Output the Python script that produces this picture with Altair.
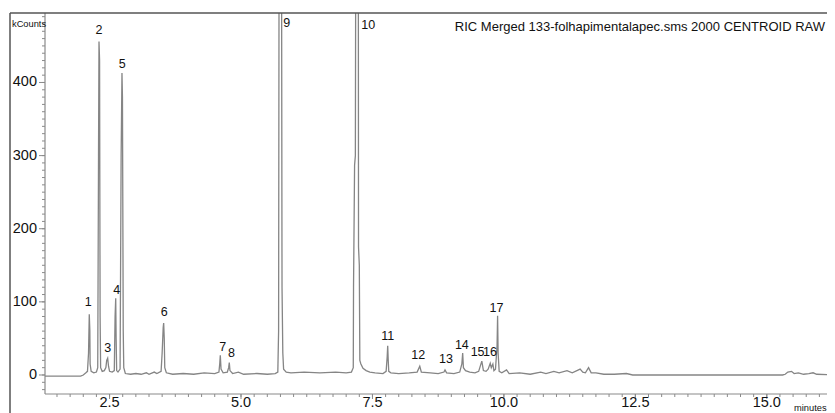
import altair as alt
import pandas as pd

# ---- chromatogram trace (minutes, kCounts) ----
trace_t = [1.27, 1.95, 2.00, 2.05, 2.08, 2.10, 2.114, 2.125, 2.13, 2.15, 2.20, 2.25, 2.275, 2.29, 2.299, 2.31,
           2.32, 2.33, 2.36, 2.40, 2.43, 2.445, 2.464, 2.48, 2.50, 2.55, 2.59, 2.605, 2.617, 2.625, 2.635,
           2.66, 2.70, 2.72, 2.736, 2.745, 2.76, 2.77, 2.80, 2.90, 3.00, 3.10, 3.20, 3.25, 3.35, 3.40, 3.48,
           3.50, 3.52, 3.529, 3.54, 3.55, 3.58, 3.70, 3.90, 4.10, 4.30, 4.50, 4.58, 4.595, 4.606, 4.62, 4.66,
           4.74, 4.765, 4.777, 4.79, 4.84, 4.95, 5.05, 5.30, 5.50, 5.65, 5.70, 5.715, 5.725, 5.745, 5.77,
           5.78, 5.795, 5.81, 5.86, 5.95, 6.20, 6.50, 6.80, 7.00, 7.10, 7.135, 7.14, 7.16, 7.175, 7.185,
           7.23, 7.235, 7.25, 7.26, 7.28, 7.32, 7.38, 7.45, 7.55, 7.70, 7.76, 7.78, 7.79, 7.80, 7.81, 7.85,
           8.00, 8.20, 8.35, 8.40, 8.43, 8.60, 8.75, 8.86, 8.88, 8.91, 9.05, 9.16, 9.20, 9.216, 9.23, 9.27,
           9.35, 9.45, 9.52, 9.58, 9.61, 9.66, 9.70, 9.74, 9.76, 9.79, 9.81, 9.84, 9.87, 9.88, 9.89, 9.91,
           9.96, 10.05, 10.10, 10.30, 10.50, 10.70, 10.80, 10.95, 11.05, 11.20, 11.30, 11.45, 11.50, 11.55,
           11.61, 11.66, 11.75, 11.90, 12.10, 12.33, 12.45, 15.30, 15.35, 15.40, 15.47, 15.52, 15.60, 15.70,
           15.80, 15.88, 15.95, 16.30]
trace_v = [-1.5, -1.5, 0, 3, 5, 30, 83, 60, 15, 5, 3, 4, 10, 300, 456, 430,
           80, 10, 5, 6, 10, 20, 23, 12, 5, 4, 6, 80, 105, 50, 6,
           4, 8, 300, 413, 380, 60, 10, 2, 1, 2, 1, 3, 1, 4, 2, 5,
           30, 65, 71, 50, 10, 3, 1, 2, 1, 3, 2, 4, 15, 27, 8, 3,
           4, 10, 17, 6, 2, 4, 1, 2, 1, 2, 4, 60, 640, 660, 640,
           120, 30, 8, 4, 3, 4, 3, 4, 3, 4, 10, 120, 287, 300, 700,
           700, 175, 150, 20, 15, 9, 6, 4, 3, 2, 5, 25, 40, 20, 5, 3,
           2, 3, 4, 12, 4, 3, 2, 4, 7, 3, 2, 4, 15, 30, 10, 6,
           4, 3, 5, 19, 6, 5, 8, 16, 10, 15, 6, 8, 40, 81, 30, 5,
           3, 7, 2, 3, 1, 4, 2, 5, 3, 6, 3, 8, 4, 3,
           10, 3, 3, 1, 1, 2, 0, 0, 1, 4, 5, 2, 3, 1,
           2, 3, 1, 0]

# ---- peak labels ----
peak_ids = ["1", "2", "3", "4", "5", "6", "7", "8", "9", "10", "11", "12", "13", "14", "15", "16", "17"]
label_t = [2.095, 2.30, 2.464, 2.636, 2.742, 3.54, 4.65, 4.82, 5.869, 7.42, 7.79, 8.37, 8.90, 9.20, 9.50, 9.735, 9.86]
label_v = [100, 472, 36.5, 116, 425.6, 85.8, 38.7, 30.5, 482, 479, 53.4, 27.4, 22.3, 41, 31, 31, 92]

# ---- axes: tick values and tick labels ----
x_domain = [1.272, 16.145]
y_domain = [-26, 495]
x_major = [2.5, 5.0, 7.5, 10.0, 12.5, 15.0]
x_major_labels = ["2.5", "5.0", "7.5", "10.0", "12.5", "15.0"]
x_minor = [1.5 + 0.25 * i for i in range(59)]
y_major = [0, 100, 200, 300, 400]
y_major_labels = ["0", "100", "200", "300", "400"]
y_minor = list(range(-20, 491, 10))

title_text = "RIC Merged 133-folhapimentalapec.sms 2000 CENTROID RAW"
y_unit = "kCounts"
x_unit = "minutes"

W, H = 782, 381
FONT = "Liberation Sans"
LINE_COL = "#858585"
AX_COL = "#8a8a8a"
TXT = "#111111"

trace = pd.DataFrame({"t": trace_t, "v": trace_v})
labels = pd.DataFrame({"id": peak_ids, "t": label_t, "v": label_v})
xmaj = pd.DataFrame({"t": x_major, "lab": x_major_labels})
xmin = pd.DataFrame({"t": x_minor})
ymaj = pd.DataFrame({"v": y_major, "lab": y_major_labels})
ymin = pd.DataFrame({"v": y_minor})
one = pd.DataFrame({"a": [0]})

x_scale = alt.Scale(domain=x_domain, nice=False, zero=False)
y_scale = alt.Scale(domain=y_domain, nice=False, zero=False)


def X(field):
    return alt.X(field, type="quantitative", scale=x_scale, axis=None)


def Y(field):
    return alt.Y(field, type="quantitative", scale=y_scale, axis=None)


line = alt.Chart(trace).mark_line(color=LINE_COL, strokeWidth=1.3, clip=True, interpolate="linear").encode(
    x=X("t"), y=Y("v"), order="t:Q",
)

peak_text = alt.Chart(labels).mark_text(font=FONT, fontSize=12.5, color=TXT, align="center",
                                         baseline="middle").encode(
    x=X("t"), y=Y("v"), text="id:N",
)

# axis lines
x_domain_line = alt.Chart(one).mark_rule(color=AX_COL, strokeWidth=1.2).encode(
    x=alt.value(0), x2=alt.value(W), y=alt.value(H))
y_domain_line = alt.Chart(one).mark_rule(color=AX_COL, strokeWidth=1.2).encode(
    x=alt.value(0), y=alt.value(0), y2=alt.value(H))

# ticks
x_minor_ticks = alt.Chart(xmin).mark_rule(color=AX_COL, strokeWidth=1).encode(
    x=X("t"), y=alt.value(H), y2=alt.value(H + 3))
x_major_ticks = alt.Chart(xmaj).mark_rule(color=AX_COL, strokeWidth=1).encode(
    x=X("t"), y=alt.value(H), y2=alt.value(H + 5))
y_minor_ticks = alt.Chart(ymin).mark_rule(color=AX_COL, strokeWidth=1).encode(
    y=Y("v"), x=alt.value(-3), x2=alt.value(0))
y_major_ticks = alt.Chart(ymaj).mark_rule(color=AX_COL, strokeWidth=1).encode(
    y=Y("v"), x=alt.value(-6), x2=alt.value(0))

# tick labels
x_tick_labels = alt.Chart(xmaj).mark_text(font=FONT, fontSize=14.5, color=TXT, align="center",
                                           baseline="alphabetic").encode(
    x=X("t"), y=alt.value(H + 12.5), text="lab:N")
y_tick_labels = alt.Chart(ymaj).mark_text(font=FONT, fontSize=14.5, color=TXT, align="right",
                                           baseline="middle").encode(
    y=Y("v"), x=alt.value(-8), text="lab:N")

# frame
top_rule = alt.Chart(one).mark_rule(color="#555", strokeWidth=1.5).encode(
    x=alt.value(-35), x2=alt.value(W), y=alt.value(0))
left_rule = alt.Chart(one).mark_rule(color="#555", strokeWidth=1.5).encode(
    x=alt.value(-35), y=alt.value(0), y2=alt.value(H + 30))

title_mark = alt.Chart(one).mark_text(font=FONT, fontSize=13, color=TXT, align="right",
                                       baseline="middle").encode(
    x=alt.value(W - 2), y=alt.value(14), text=alt.value(title_text))
yunit_mark = alt.Chart(one).mark_text(font=FONT, fontSize=9.3, color=TXT, align="left",
                                       baseline="middle").encode(
    x=alt.value(-33), y=alt.value(11), text=alt.value(y_unit))
xunit_mark = alt.Chart(one).mark_text(font=FONT, fontSize=9.3, color=TXT, align="left",
                                       baseline="middle").encode(
    x=alt.value(749), y=alt.value(395), text=alt.value(x_unit))

chart = alt.layer(
    x_minor_ticks, x_major_ticks, y_minor_ticks, y_major_ticks, x_domain_line, y_domain_line,
    line, peak_text, x_tick_labels, y_tick_labels,
    top_rule, left_rule, title_mark, yunit_mark, xunit_mark,
).properties(
    width=W, height=H,
    autosize=alt.AutoSizeParams(type="none"),
    padding={"left": 37, "top": 5, "right": 0, "bottom": 19},
    background="white",
).configure_view(stroke=None)

chart.save("out.html", embed_options={"renderer": "svg", "actions": False})
